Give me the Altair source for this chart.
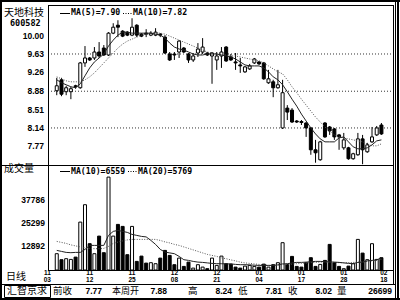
import altair as alt
import pandas as pd

# ---------------- data ----------------
opens = [8.89, 9.11, 8.87, 8.87, 8.99, 8.95, 9.45, 9.55, 9.55, 9.67,
         9.75, 9.61, 10.05, 10.21, 10.09, 10.07, 10.01, 10.21, 10.03, 10.05,
         10.01, 10.01, 10.03, 9.97, 9.63, 9.63, 9.67, 9.75, 9.63, 9.51,
         9.65, 9.67, 9.65, 9.59, 9.51, 9.59, 9.77, 9.57, 9.47, 9.41,
         9.27, 9.33, 9.45, 9.47, 9.45, 9.05, 9.07, 8.95, 8.14, 8.54,
         8.50, 8.28, 8.27, 8.24, 8.14, 7.70, 7.50, 8.24, 8.16, 8.12,
         8.00, 7.74, 7.74, 7.52, 7.60, 7.92, 7.66, 7.86, 8.00, 8.20]
highs = [9.15, 9.15, 8.99, 8.97, 9.01, 9.47, 9.79, 9.57, 9.77, 9.87,
         9.81, 10.07, 10.25, 10.31, 10.11, 10.09, 10.35, 10.23, 10.05, 10.13,
         10.09, 10.15, 10.05, 10.01, 9.67, 9.67, 9.91, 9.77, 9.65, 9.65,
         9.85, 9.95, 9.67, 9.67, 9.67, 9.77, 9.79, 9.63, 9.65, 9.55,
         9.39, 9.43, 9.55, 9.49, 9.47, 9.31, 9.11, 9.31, 9.11, 8.60,
         8.54, 8.30, 8.30, 8.26, 8.16, 7.90, 7.88, 8.26, 8.18, 8.14,
         8.02, 8.04, 7.76, 7.64, 8.04, 8.00, 7.84, 8.16, 8.18, 8.24]
lows = [8.80, 8.78, 8.80, 8.72, 8.93, 8.93, 9.37, 9.49, 9.51, 9.55,
        9.59, 9.59, 10.03, 9.97, 9.97, 9.99, 9.99, 9.97, 9.97, 9.97,
        9.99, 9.99, 9.97, 9.63, 9.49, 9.51, 9.55, 9.65, 9.45, 9.47,
        9.57, 9.63, 9.59, 9.03, 9.31, 9.35, 9.47, 9.49, 9.31, 9.25,
        9.25, 9.31, 9.43, 9.41, 9.11, 9.03, 8.76, 8.93, 8.12, 8.30,
        8.24, 8.24, 8.20, 7.96, 7.60, 7.44, 7.48, 7.94, 8.00, 7.90,
        7.70, 7.70, 7.50, 7.50, 7.58, 7.41, 7.64, 7.84, 7.98, 8.00]
closes = [8.99, 8.82, 8.95, 8.93, 8.97, 9.45, 9.55, 9.51, 9.67, 9.59,
          9.61, 10.05, 10.17, 10.17, 9.99, 10.01, 10.17, 10.01, 9.99, 10.03,
          10.05, 10.07, 10.01, 9.65, 9.51, 9.61, 9.89, 9.67, 9.51, 9.59,
          9.73, 9.77, 9.61, 9.65, 9.59, 9.67, 9.49, 9.51, 9.45, 9.39,
          9.37, 9.39, 9.53, 9.43, 9.13, 9.13, 8.95, 9.01, 8.85, 8.46,
          8.26, 8.26, 8.25, 8.14, 7.70, 7.64, 7.86, 7.96, 8.08, 7.96,
          7.96, 7.90, 7.52, 7.62, 7.92, 7.70, 7.80, 7.96, 8.14, 8.02]
ma5 = [9.11, 9.05, 9.01, 8.97, 8.95, 9.03, 9.19, 9.35, 9.47, 9.55,
       9.63, 9.79, 9.91, 10.01, 10.07, 10.07, 10.05, 10.05, 10.05, 10.05,
       10.05, 10.03, 10.01, 9.95, 9.85, 9.77, 9.73, 9.71, 9.67, 9.63,
       9.61, 9.61, 9.63, 9.63, 9.63, 9.61, 9.59, 9.57, 9.53, 9.47,
       9.41, 9.39, 9.39, 9.39, 9.35, 9.27, 9.17, 9.11, 9.01, 8.87,
       8.72, 8.58, 8.42, 8.28, 8.14, 8.02, 7.92, 7.86, 7.86, 7.86,
       7.94, 7.96, 7.86, 7.76, 7.72, 7.72, 7.74, 7.80, 7.88, 7.90]
ma10 = [9.17, 9.13, 9.09, 9.07, 9.07, 9.07, 9.11, 9.17, 9.25, 9.35,
        9.45, 9.55, 9.65, 9.75, 9.83, 9.89, 9.93, 9.97, 10.01, 10.03,
        10.05, 10.05, 10.05, 10.03, 9.99, 9.95, 9.91, 9.87, 9.83, 9.79,
        9.75, 9.71, 9.67, 9.65, 9.63, 9.61, 9.61, 9.59, 9.59, 9.57,
        9.55, 9.53, 9.51, 9.49, 9.45, 9.39, 9.33, 9.27, 9.23, 9.11,
        8.97, 8.85, 8.72, 8.60, 8.48, 8.36, 8.26, 8.16, 8.08, 8.00,
        7.96, 7.94, 7.92, 7.90, 7.88, 7.86, 7.82, 7.78, 7.78, 7.82]
vol = [8786, 5552, 6091, 5713, 6953, 25818, 35197, 14176, 8786, 18272,
       9325, 50073, 18272, 24578, 23500, 8247, 23500, 4635, 7492, 3719,
       3935, 3396, 6414, 10564, 7869, 2857, 6414, 1940, 4258, 1024,
       2857, 1563, 700, 6414, 2479, 7492, 3396, 3180, 1563, 1024,
       2102, 2479, 1940, 1563, 3180, 1563, 2857, 3935, 14715, 3018,
       7330, 1940, 1563, 3935, 6630, 1940, 3018, 5174, 13798, 3935,
       1940, 700, 2102, 3396, 16493, 9109, 5552, 14176, 5713, 6630]
vol_ma10 = [10564, 10025, 9486, 9325, 9486, 9486, 11103, 13259, 13259, 13259,
            13259, 18649, 20805, 21344, 20805, 20266, 19188, 18649, 18110, 17841,
            15954, 13798, 11103, 9648, 9217, 8786, 7330, 5552, 5174, 4635,
            4258, 4096, 3827, 3557, 3396, 3396, 3288, 3288, 3018, 2857,
            2857, 2749, 2587, 2479, 2479, 2479, 2479, 2749, 3288, 3396,
            3827, 4096, 4096, 4258, 4474, 4635, 4635, 4474, 4366, 4258,
            4096, 3827, 3557, 3396, 4096, 4258, 4905, 5174, 5444, 6559]
vol_ma20 = [15415, 14876, 14337, 13529, 12990, 12451, 11912, 11642, 11481, 11481,
            11642, 12720, 14337, 15038, 15685, 16224, 16493, 16493, 16493, 16493,
            16493, 16493, 15954, 15146, 14607, 13798, 13259, 12451, 11642, 10834,
            10025, 9217, 8408, 7869, 7330, 6522, 6091, 5444, 4905, 4258,
            3827, 3557, 3288, 3018, 2749, 2479, 2479, 2587, 2857, 3018,
            3180, 3396, 3557, 3719, 3935, 4096, 4258, 4258, 4258, 4096,
            3935, 3935, 3989, 4096, 4258, 4366, 4635, 4905, 5174, 5769]

price_ticks = [10.00, 9.63, 9.26, 8.88, 8.51, 8.14, 7.77]
price_grid = [9.63, 8.88, 8.14]
vol_ticks = [37786, 25299, 12892]
date_pos = [-2, 7, 16, 25, 34, 43, 52, 61, 69.5]
date_month = ["11", "11", "11", "12", "12", "01", "01", "01", "02"]
date_day = ["03", "12", "25", "08", "21", "04", "17", "28", "18"]

# ---------------- layout helpers ----------------
W, H = 345, 265
X0, Y0 = 48, 5


def px(x):
    return x - X0


def py(y):
    return y - Y0


MONO = "DejaVu Sans Mono"
SANS = "Liberation Sans"
CJK = "Noto Sans CJK SC"

df = pd.DataFrame({"i": list(range(len(opens))), "o": opens, "h": highs, "l": lows,
                   "c": closes, "ma5": ma5, "ma10": ma10, "v": vol,
                   "vma10": vol_ma10, "vma20": vol_ma20})
df["up"] = df["c"] >= df["o"]

xs = alt.Scale(domain=[-0.8, 70.4], nice=False, zero=False)
ys_p = alt.Scale(domain=[7.394, 10.617], range=[160, 0], nice=False, zero=False)
ys_v = alt.Scale(domain=[0, 56600], range=[265, 160], nice=False, zero=False)
X = alt.X("i:Q", scale=xs, axis=None)
fill_cond = alt.condition("datum.up", alt.value("white"), alt.value("black"))

base = alt.Chart(df)

# ---------------- price panel ----------------
grid = alt.Chart(pd.DataFrame({"g": price_grid})).mark_rule(
    color="#333", strokeWidth=1, strokeDash=[1, 2]).encode(
    y=alt.Y("g:Q", scale=ys_p, axis=None), x=alt.value(0), x2=alt.value(W))
wick = base.mark_rule(color="black", strokeWidth=1).encode(
    X, y=alt.Y("l:Q", scale=ys_p, axis=None), y2="h:Q")
body = base.mark_bar(size=3, stroke="black", strokeWidth=1).encode(
    X, y=alt.Y("o:Q", scale=ys_p, axis=None), y2="c:Q", fill=fill_cond)
ma10_line = base.mark_line(color="#555", strokeWidth=1, strokeDash=[1, 1.5]).encode(
    X, y=alt.Y("ma10:Q", scale=ys_p, axis=None))
ma5_line = base.mark_line(color="#222", strokeWidth=1).encode(
    X, y=alt.Y("ma5:Q", scale=ys_p, axis=None))
ptick_df = pd.DataFrame({"t": price_ticks, "lab": [f"{t:.2f}" for t in price_ticks]})
plabels = alt.Chart(ptick_df).mark_text(
    align="right", baseline="middle", font=SANS, fontSize=8.5, fontWeight="bold",
    color="black").encode(y=alt.Y("t:Q", scale=ys_p, axis=None), x=alt.value(px(44)), text="lab:N")

price = alt.layer(grid, wick, body, ma10_line, ma5_line, plabels)

# ---------------- volume panel ----------------
vbars = base.mark_bar(size=3, stroke="black", strokeWidth=1).encode(
    X, y=alt.Y("v:Q", scale=ys_v, axis=None), y2=alt.datum(0), fill=fill_cond)
vma20_line = base.mark_line(color="#555", strokeWidth=1, strokeDash=[1, 1.5]).encode(
    X, y=alt.Y("vma20:Q", scale=ys_v, axis=None))
vma10_line = base.mark_line(color="#222", strokeWidth=1).encode(
    X, y=alt.Y("vma10:Q", scale=ys_v, axis=None))
vtick_df = pd.DataFrame({"t": vol_ticks, "lab": [str(t) for t in vol_ticks]})
vlabels = alt.Chart(vtick_df).mark_text(
    align="right", baseline="middle", font=SANS, fontSize=8.5, fontWeight="bold",
    color="black").encode(y=alt.Y("t:Q", scale=ys_v, axis=None), x=alt.value(px(45)), text="lab:N")
date_df = pd.DataFrame({"p": date_pos, "m": date_month, "d": date_day})
dmonth = alt.Chart(date_df).mark_text(
    align="center", baseline="middle", font=SANS, fontSize=6.5, fontWeight="bold",
    color="black").encode(x=alt.X("p:Q", scale=xs, axis=None), y=alt.value(py(273.3)), text="m:N")
dday = alt.Chart(date_df).mark_text(
    align="center", baseline="middle", font=SANS, fontSize=6.5, fontWeight="bold",
    color="black").encode(x=alt.X("p:Q", scale=xs, axis=None), y=alt.value(py(280.2)), text="d:N")

volume = alt.layer(vbars, vma20_line, vma10_line, vlabels, dmonth, dday)

# ---------------- decorations & texts ----------------
dummy = alt.Chart(pd.DataFrame({"d": [0]}))


def hline(x1, x2, y, w=1, **kw):
    return dummy.mark_rule(color="black", strokeWidth=w, **kw).encode(
        x=alt.value(px(x1)), x2=alt.value(px(x2)), y=alt.value(py(y)))


def vline(x, y1, y2, w=1, **kw):
    return dummy.mark_rule(color="black", strokeWidth=w, **kw).encode(
        x=alt.value(px(x)), y=alt.value(py(y1)), y2=alt.value(py(y2)))


def label(text, x, y, size=8.5, font=SANS, weight="bold", align="left", color="black"):
    return dummy.mark_text(text=text, align=align, baseline="middle", font=font,
                           fontSize=size, fontWeight=weight, color=color).encode(
        x=alt.value(px(x)), y=alt.value(py(y)))


deco = [
    # outer frame
    vline(1, 0, 300, w=2), hline(0, 400, 1, w=2), hline(0, 400, 299, w=2),
    vline(395.5, 0, 300), vline(398, 0, 300, w=2),
    # plot frame
    vline(48.5, 5.5, 270.5), vline(393.5, 5.5, 284.5), hline(48, 394, 5.5),
    hline(1, 394, 165.5), hline(48, 394, 270.5), hline(1, 396, 284.5),
    # status box
    dummy.mark_rect(fillOpacity=0, stroke="black", strokeWidth=1).encode(
        x=alt.value(px(4.5)), x2=alt.value(px(50.5)), y=alt.value(py(285.5)), y2=alt.value(py(297.5))),
    # legend markers
    hline(60, 70, 13.5), hline(123, 132, 13.5, strokeDash=[1, 1.5]),
    hline(60, 70, 171.5), hline(128, 137, 171.5, strokeDash=[1, 1.5]),
    # left texts
    label("天地科技", 4, 12.5, size=10, font=CJK, weight="normal"),
    label("600582", 10, 22.5, size=8.5, font=MONO),
    label("成交量", 4, 169, size=10, font=CJK, weight="normal"),
    label("日线", 6, 277, size=10, font=CJK, weight="normal"),
    # legends
    label("MA(5)=7.90", 71, 13, size=8.2, font=MONO),
    label("MA(10)=7.82", 133, 13, size=8.2, font=MONO),
    label("MA(10)=6559", 71, 171.5, size=8.2, font=MONO),
    label("MA(20)=5769", 138, 171.5, size=8.2, font=MONO),
    # status row
    label("汇智京求", 7, 291, size=10, font=CJK, weight="normal"),
    label("前收", 53, 291, size=9.5, font=CJK, weight="normal"),
    label("7.77", 102, 291, size=8.5, align="right"),
    label("本周开", 112, 291, size=9, font=CJK, weight="normal"),
    label("7.88", 167, 291, size=8.5, align="right"),
    label("高", 188, 291, size=9.5, font=CJK, weight="normal"),
    label("8.24", 232, 291, size=8.5, align="right"),
    label("低", 238, 291, size=9.5, font=CJK, weight="normal"),
    label("7.81", 282, 291, size=8.5, align="right"),
    label("收", 288, 291, size=9.5, font=CJK, weight="normal"),
    label("8.02", 332, 291, size=8.5, align="right"),
    label("量", 337, 291, size=9.5, font=CJK, weight="normal"),
    label("26699", 392, 291, size=8.5, align="right"),
]

chart = alt.layer(price, volume, *deco).resolve_scale(y="independent").properties(
    width=W, height=H,
    padding={"left": X0, "top": Y0, "right": 400 - X0 - W, "bottom": 300 - Y0 - H},
    autosize=alt.AutoSizeParams(type="none"),
    background="white",
).configure_view(stroke=None)

chart.save("out.html", embed_options={"renderer": "svg", "actions": False})
